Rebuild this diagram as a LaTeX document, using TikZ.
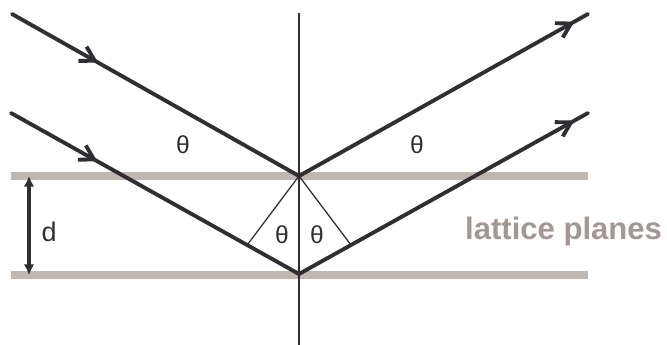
\documentclass[tikz,border=0pt]{standalone}
\usepackage{fontspec}
\setmainfont{Liberation Sans}
\usetikzlibrary{arrows.meta,calc,decorations.markings}
\definecolor{planegray}{RGB}{192,182,178}
\definecolor{raygray}{RGB}{48,46,50}
\definecolor{labelgray}{RGB}{163,151,148}

\begin{document}
\begin{tikzpicture}[x=0.03cm,y=-0.03cm,>=Stealth,
  ray/.style={line width=3.3pt,raygray,line cap=round,postaction={decorate},
    decoration={markings,mark=at position #1 with {\arrow{Straight Barb[length=12pt,width=14pt]}}}},
  plane/.style={line width=6.8pt,planegray},
  guide/.style={line width=1.1pt,raygray},
  anglabel/.style={font=\fontsize{21}{21}\selectfont,raygray}]
\useasboundingbox (0,0) rectangle (667,345);
\coordinate (A) at (299,176);
\coordinate (B) at (299,274);
\coordinate (in1) at (12,14);
\coordinate (in2) at (11,113);
\coordinate (out1) at (588,14);
\coordinate (out2) at (588,113);
\coordinate (ntop) at (299,13);
\coordinate (nbot) at (299,345);
\draw[plane] (11,176) coordinate (p1l) -- (588,176) coordinate (p1r);
\draw[plane] (11,275) coordinate (p2l) -- (588,275) coordinate (p2r);
\draw[guide] (ntop) -- (nbot);
\coordinate (footL) at ($(in2)!0.82!(B)$);
\coordinate (footR) at ($(B)!0.18!(out2)$);
\draw[guide] (footL) -- (A) -- (footR);
\draw[ray=0.30] (in1) -- (A);
\draw[ray=0.30] (in2) -- (B);
\draw[ray=0.953] (A) -- (out1);
\draw[ray=0.953] (B) -- (out2);
\draw[<->,line width=3.3pt,raygray,>={Latex[length=9pt,width=9pt]}] (29,176) coordinate (dtop) -- (29,275) coordinate (dbot);
\node[font=\fontsize{23}{23}\selectfont,raygray] (dlab) at (49,232) {d};
\node[anglabel] (th1) at (183,145) {θ};
\node[anglabel] (th2) at (417,145) {θ};
\node[anglabel] (th3) at (282,235) {θ};
\node[anglabel] (th4) at (317,235) {θ};
\node[anchor=base west,inner sep=0pt,font=\fontsize{26.5}{26.5}\selectfont\bfseries,labelgray] (lp) at (465,240) {lattice planes};
\end{tikzpicture}
\end{document}
